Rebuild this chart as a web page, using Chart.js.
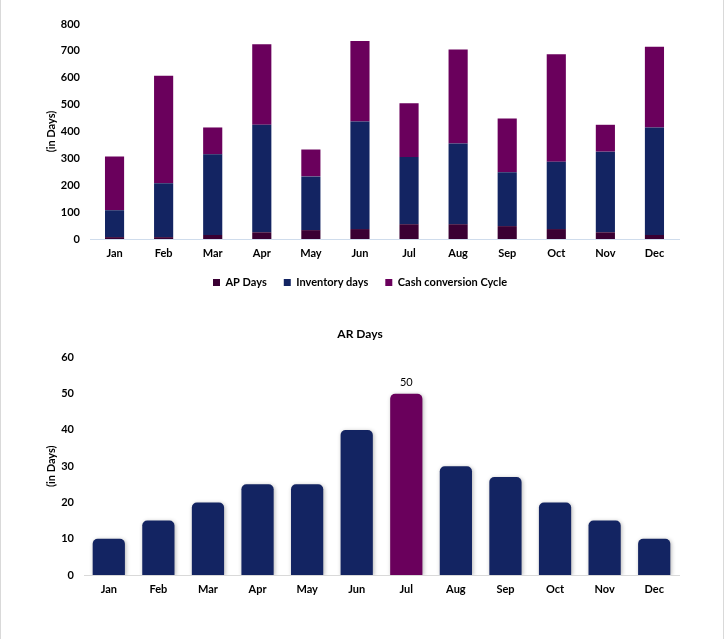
<!DOCTYPE html>
<html>
<head>
<meta charset="utf-8">
<script src="https://cdn.jsdelivr.net/npm/chart.js@4.4.1/dist/chart.umd.min.js"></script>
<style>
  html, body { margin: 0; padding: 0; background: #fff; }
  #frame {
    position: relative;
    width: 722px;
    height: 640px;
    border-left: 1px solid #d9d9d9;
    border-right: 1px solid #d9d9d9;
    overflow: hidden;
  }
  .box { position: absolute; left: -1px; width: 724px; }
  #top { top: 0; height: 300px; }
  #bottom { top: 300px; height: 339px; }
</style>
</head>
<body>
<div id="frame">
  <div class="box" id="top"><canvas id="cycleChart" width="724" height="300"></canvas></div>
  <div class="box" id="bottom"><canvas id="arChart" width="724" height="339"></canvas></div>
</div>
<script>
/* ===== Data ===== */

const months = ["Jan", "Feb", "Mar", "Apr", "May", "Jun", "Jul", "Aug", "Sep", "Oct", "Nov", "Dec"];

const apDays = [7, 7, 15, 25, 33, 37, 55, 55, 48, 37, 25, 15];
const inventoryDays = [100, 200, 300, 400, 200, 400, 250, 300, 200, 250, 300, 400];
const cashCycle = [200, 400, 100, 300, 100, 300, 200, 350, 200, 400, 100, 300];

const arDays = [10, 15, 20, 25, 25, 40, 50, 30, 27, 20, 15, 10];
const arHighlight = 6; // Jul, labelled

const cycleTicks = [0, 100, 200, 300, 400, 500, 600, 700, 800];
const arTicks = [0, 10, 20, 30, 40, 50, 60];

/* ===== Style ===== */

const FONT = "Lato, 'DejaVu Sans', sans-serif";
const NAVY = "#132462";
const PURPLE = "#6a005c";
const DARK = "#3a0033";

Chart.defaults.font.family = FONT;
Chart.defaults.color = "#000";
Chart.defaults.animation = false;

function fixWidth(w) {
  return function (scale) { scale.width = w; };
}
function fixHeight(h) {
  return function (scale) { scale.height = h; };
}

/* ===== Stacked chart ===== */

new Chart(document.getElementById("cycleChart"), {
  type: "bar",
  data: {
    labels: months,
    datasets: [
      { label: "AP Days", data: apDays, backgroundColor: DARK },
      { label: "Inventory days", data: inventoryDays, backgroundColor: NAVY },
      { label: "Cash conversion Cycle", data: cashCycle, backgroundColor: PURPLE }
    ]
  },
  options: {
    responsive: false,
    layout: { padding: { left: 41, right: 45, top: 24, bottom: 2 } },
    datasets: { bar: { categoryPercentage: 1, barPercentage: 0.39 } },
    plugins: {
      tooltip: { enabled: false },
      legend: {
        position: "bottom",
        labels: {
          boxWidth: 7,
          boxHeight: 7,
          padding: 17,
          font: { size: 11, weight: "bold" }
        }
      }
    },
    scales: {
      x: {
        stacked: true,
        grid: { display: false, drawTicks: false },
        border: { color: "#cfdcec", width: 1 },
        ticks: { padding: 8, font: { size: 11, weight: "bold" } },
        afterFit: fixHeight(21)
      },
      y: {
        stacked: true,
        min: 0,
        max: 800,
        afterBuildTicks: (scale) => { scale.ticks = cycleTicks.map(v => ({ value: v })); },
        grid: { display: false, drawTicks: false },
        border: { display: false },
        ticks: { padding: 10, font: { size: 11, weight: "bold" } },
        title: { display: true, text: "(in Days)", font: { size: 11, weight: "bold" }, padding: 4 },
        afterFit: fixWidth(49)
      }
    }
  }
});

/* ===== AR Days chart ===== */

const barShadow = {
  id: "barShadow",
  beforeDatasetsDraw(chart) {
    const ctx = chart.ctx;
    ctx.save();
    ctx.shadowColor = "rgba(0,0,0,0.3)";
    ctx.shadowBlur = 4;
    ctx.shadowOffsetX = 1;
    ctx.shadowOffsetY = 1;
  },
  afterDatasetsDraw(chart) {
    chart.ctx.restore();
  }
};

const valueLabel = {
  id: "valueLabel",
  afterDatasetsDraw(chart) {
    const bar = chart.getDatasetMeta(0).data[arHighlight];
    const ctx = chart.ctx;
    ctx.save();
    ctx.font = "11px " + FONT;
    ctx.fillStyle = "#000";
    ctx.textAlign = "center";
    ctx.textBaseline = "bottom";
    ctx.fillText(String(arDays[arHighlight]), bar.x, bar.y - 6);
    ctx.restore();
  }
};

new Chart(document.getElementById("arChart"), {
  type: "bar",
  data: {
    labels: months,
    datasets: [{
      label: "AR Days",
      data: arDays,
      backgroundColor: arDays.map((v, i) => i === arHighlight ? PURPLE : NAVY),
      borderRadius: { topLeft: 5, topRight: 5 },
      borderSkipped: "bottom"
    }]
  },
  options: {
    responsive: false,
    layout: { padding: { left: 41, right: 45, top: 0, bottom: 39 } },
    datasets: { bar: { categoryPercentage: 1, barPercentage: 0.65 } },
    plugins: {
      tooltip: { enabled: false },
      legend: { display: false },
      title: {
        display: true,
        text: "AR Days",
        font: { size: 12, weight: "bold" },
        color: "#000",
        padding: { top: 27, bottom: 16 }
      }
    },
    scales: {
      x: {
        grid: { display: false, drawTicks: false },
        border: { color: "#d9d9d9", width: 1 },
        ticks: { padding: 8, font: { size: 11, weight: "bold" } },
        afterFit: fixHeight(25)
      },
      y: {
        min: 0,
        max: 60,
        afterBuildTicks: (scale) => { scale.ticks = arTicks.map(v => ({ value: v })); },
        grid: { display: false, drawTicks: false },
        border: { display: false },
        ticks: { padding: 10, font: { size: 11, weight: "bold" } },
        title: { display: true, text: "(in Days)", font: { size: 11, weight: "bold" }, padding: 4 },
        afterFit: fixWidth(43)
      }
    }
  },
  plugins: [barShadow, valueLabel]
});
</script>
</body>
</html>
